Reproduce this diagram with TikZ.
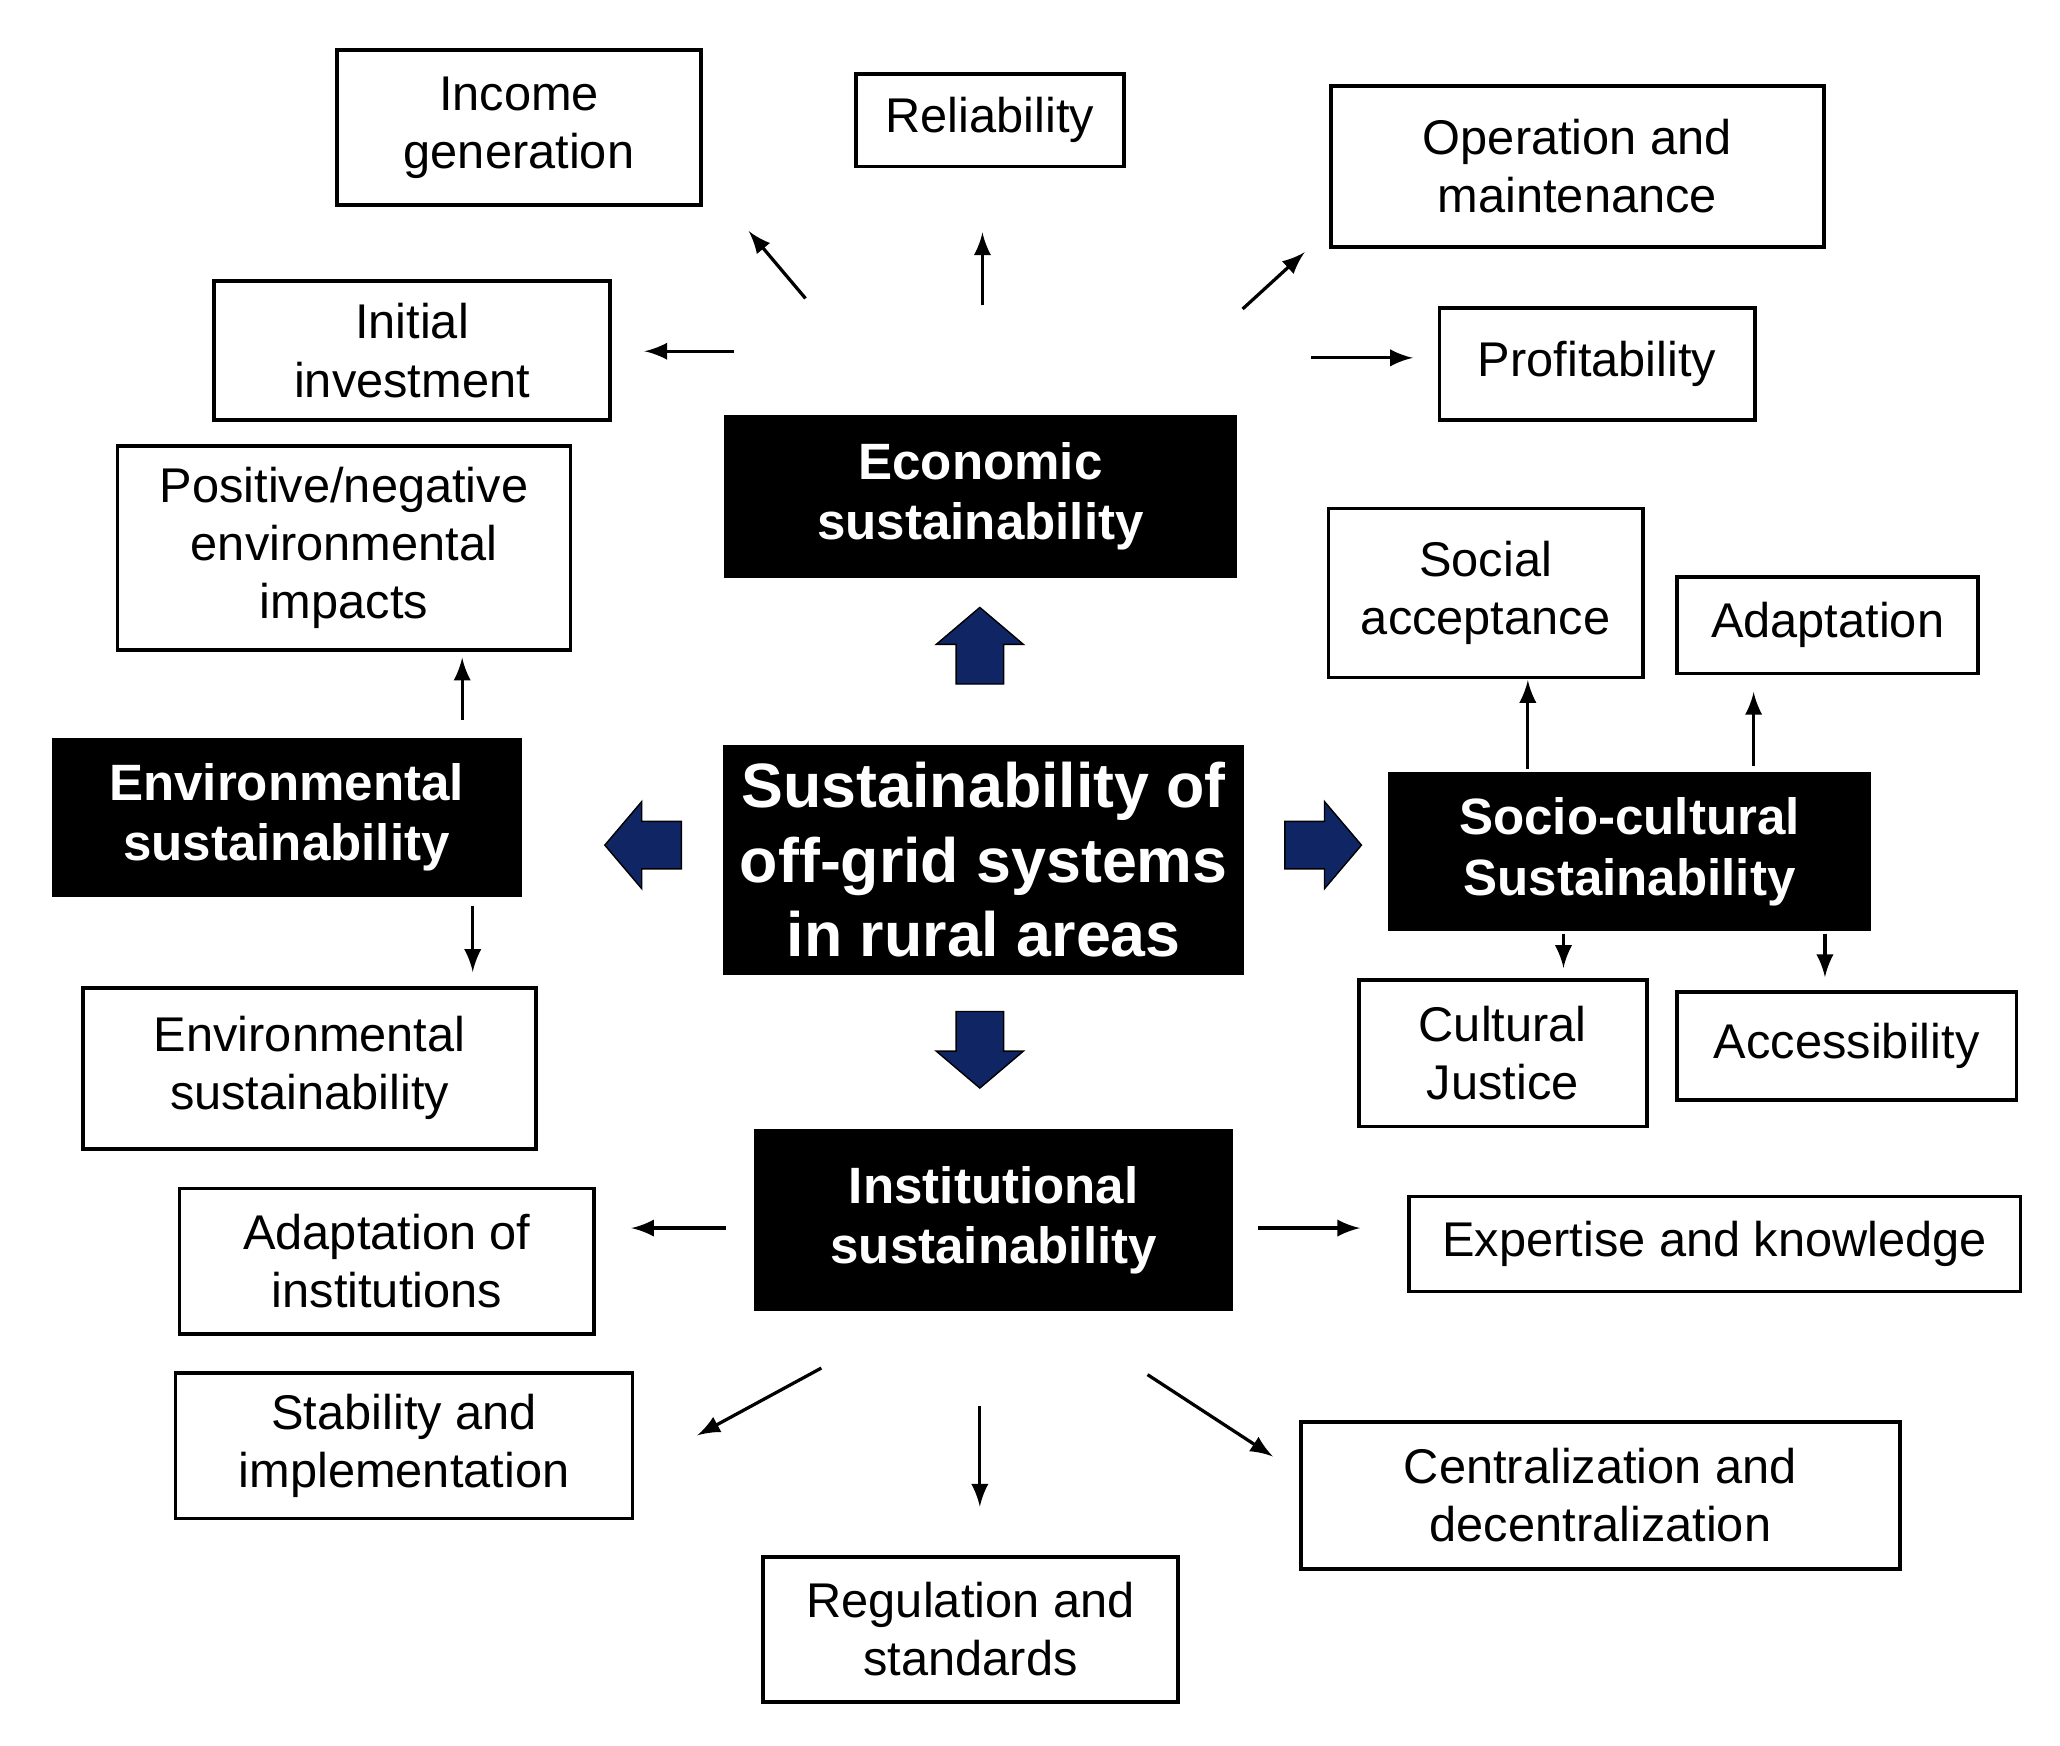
\documentclass[tikz,border=0pt]{standalone}
\usepackage{fontspec}
\setmainfont{Liberation Sans}
\definecolor{navy}{RGB}{16,38,100}
\begin{document}
\begin{tikzpicture}[x=0.01cm,y=-0.01cm,
  wb/.style={draw,line width=0.8pt,font=\fontsize{10.5}{12.5}\selectfont,align=center,inner sep=0pt},
  bb/.style={fill=black,text=white,font=\bfseries\fontsize{11}{13}\selectfont,align=center,inner sep=0pt},
  ar/.style={-latex,line width=0.7pt},
  blk/.style={fill=navy,draw=black,line width=0.3pt}]
\useasboundingbox (0,0) rectangle (1560,1322);
\def\B#1#2#3#4#5#6#7{\node[#1,minimum width={(#4-#2)*0.01cm},minimum height={(#5-#3)*0.01cm}] (#6) at ({(#2+#4)/2},{(#3+#5)/2}) {#7};}
\B{wb}{255}{38}{531}{155}{inc}{Income\\generation}
\B{wb}{648}{56}{851}{126}{rel}{Reliability}
\B{wb}{1008}{65}{1381}{187}{om}{Operation and\\maintenance}
\B{wb}{162}{213}{462}{318}{ini}{Initial\\investment}
\B{wb}{1090}{233}{1329}{318}{pro}{Profitability}
\B{bb}{548}{314}{937}{438}{eco}{Economic\\sustainability}
\B{wb}{89}{338}{432}{492}{pn}{Positive/negative\\environmental\\impacts}
\B{wb}{1006}{385}{1244}{513}{soc}{Social\\acceptance}
\B{wb}{1270}{437}{1498}{510}{ada}{Adaptation}
\B{bb}{39}{559}{395}{679}{env}{Environmental\\sustainability}
\node[fill=black,text=white,font=\bfseries\fontsize{13.5}{16}\selectfont,align=center,inner sep=0pt,minimum width=3.94cm,minimum height=1.74cm] (c) at (745,651) {Sustainability of\\off-grid systems\\in rural areas};
\B{bb}{1051}{585}{1417}{705}{sc}{Socio-cultural\\Sustainability}
\B{wb}{1029}{742}{1247}{853}{cj}{Cultural\\Justice}
\B{wb}{1270}{751}{1527}{833}{acc}{Accessibility}
\B{wb}{63}{748}{406}{870}{env2}{Environmental\\sustainability}
\B{bb}{571}{855}{934}{993}{ins}{Institutional\\sustainability}
\B{wb}{136}{900}{450}{1010}{adi}{Adaptation of\\institutions}
\B{wb}{1067}{906}{1530}{978}{exp}{Expertise and knowledge}
\B{wb}{133}{1040}{479}{1150}{sta}{Stability and\\implementation}
\B{wb}{985}{1077}{1439}{1188}{cen}{Centralization and\\decentralization}
\B{wb}{578}{1179}{892}{1289}{reg}{Regulation and\\standards}
\foreach \n/\a/\b/\c/\d in {a1/610/226/567/175, a2/744/231/744/176, a3/941/234/988/191, a4/556/266/488/266, a5/993/271/1070/271, a6/350/545/350/498, a7/358/686/358/736, a8/1157/582/1157/515, a9/1328/580/1328/524, a10/1184/707/1184/733, a11/1382/707/1382/740, a12/550/930/478/930, a13/953/930/1030/930, a14/622/1036/528/1087, a15/742/1065/742/1141, a16/869/1041/964/1103}{
  \coordinate (\n s) at (\a,\b); \coordinate (\n e) at (\c,\d);
  \draw[ar] (\n s) -- (\n e);}
\foreach \n/\px/\py/\r in {up/742/518/90, lf/516/640/180, rt/973/640/0, dn/742/766/270}{
  \coordinate (\n) at (\px,\py);
  \draw[blk,shift={(\n)},rotate=\r] (0,-18) -- (30,-18) -- (30,-33) -- (58,0) -- (30,33) -- (30,18) -- (0,18) -- cycle;}
\end{tikzpicture}
\end{document}
